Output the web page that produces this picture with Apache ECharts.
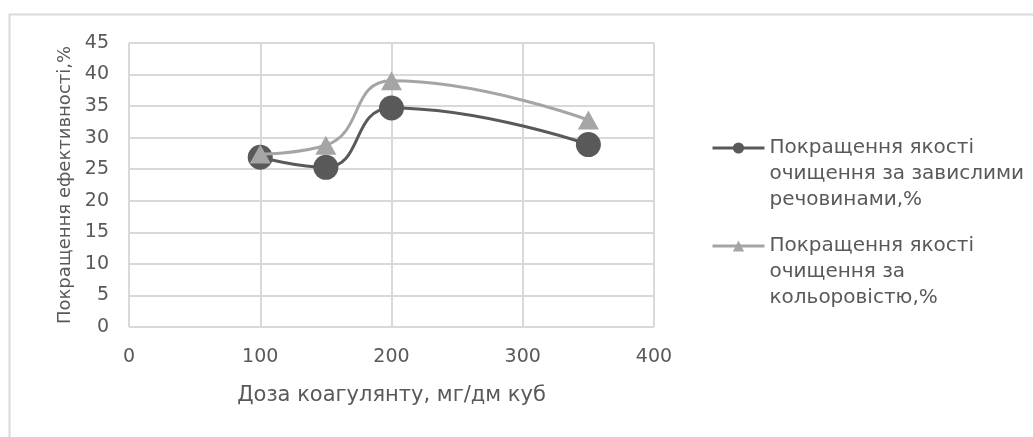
<!DOCTYPE html>
<html>
<head>
<meta charset="utf-8">
<script src="https://cdn.jsdelivr.net/npm/echarts@6/dist/echarts.min.js"></script>
<style>
html,body{margin:0;padding:0;background:#fff;}
#chart{width:1033px;height:437px;}
</style>
</head>
<body>
<div id="chart"></div>
<script>
// ---- data ----
var doses = [100, 150, 200, 350];
var suspendedSolids = [26.9, 25.3, 34.7, 28.9];
var colourImprove = [27.4, 28.8, 39.0, 32.8];
var seriesNames = [
  'Покращення якості\nочищення за завислими\nречовинами,%',
  'Покращення якості\nочищення за\nкольоровістю,%'
];
var xTitle = 'Доза коагулянту, мг/дм куб';
var yTitle = 'Покращення ефективності,%';

function pairs(xs, ys) { return xs.map(function (x, i) { return [x, ys[i]]; }); }

var FONT = 'DejaVu Sans';
var TXT = '#595959';
var GRID = '#d9d9d9';

var chart = echarts.init(document.getElementById('chart'), null, {renderer: 'canvas'});
var legendText = {color: TXT, fontFamily: FONT, fontSize: 20, lineHeight: 26};
function legendFmt(name) { return '\n\n' + name; }
var legendCommon = {
  orient: 'vertical', left: 706, itemWidth: 52, itemHeight: 14, itemGap: 0,
  textStyle: legendText, formatter: legendFmt, lineStyle: {width: 3}
};
chart.setOption({
  animation: false,
  backgroundColor: '#fff',
  graphic: [{
    type: 'rect', silent: true,
    shape: {x: 9.5, y: 14.5, width: 2000, height: 2000},
    style: {fill: 'none', stroke: GRID, lineWidth: 2}
  }],
  grid: {left: 129, right: 379, top: 43, bottom: 110, containLabel: false},
  legend: [
    Object.assign({data: [seriesNames[0]], top: 78}, legendCommon),
    Object.assign({data: [seriesNames[1]], top: 176}, legendCommon)
  ],
  xAxis: {
    type: 'value', min: 0, max: 400, interval: 100,
    name: xTitle, nameLocation: 'middle', nameGap: 58,
    nameTextStyle: {color: TXT, fontFamily: FONT, fontSize: 21},
    axisLine: {show: false}, axisTick: {show: false},
    axisLabel: {color: TXT, fontFamily: FONT, fontSize: 19, margin: 21},
    splitLine: {show: true, lineStyle: {color: GRID, width: 2}}
  },
  yAxis: {
    type: 'value', min: 0, max: 45, interval: 5,
    name: yTitle, nameLocation: 'middle', nameGap: 55,
    nameTextStyle: {color: TXT, fontFamily: FONT, fontSize: 18},
    axisLine: {show: false}, axisTick: {show: false},
    axisLabel: {color: TXT, fontFamily: FONT, fontSize: 19, margin: 20},
    splitLine: {show: true, lineStyle: {color: GRID, width: 2}}
  },
  series: [{
    name: seriesNames[0], type: 'line', data: pairs(doses, suspendedSolids),
    smooth: 0.5, symbol: 'circle', symbolSize: 25,
    lineStyle: {color: '#595959', width: 3},
    itemStyle: {color: '#595959'}, z: 2
  }, {
    name: seriesNames[1], type: 'line', data: pairs(doses, colourImprove),
    smooth: 0.5, symbol: 'triangle', symbolSize: [21, 19],
    lineStyle: {color: '#a5a5a5', width: 3},
    itemStyle: {color: '#a5a5a5'}, z: 3
  }]
});
</script>
</body>
</html>
